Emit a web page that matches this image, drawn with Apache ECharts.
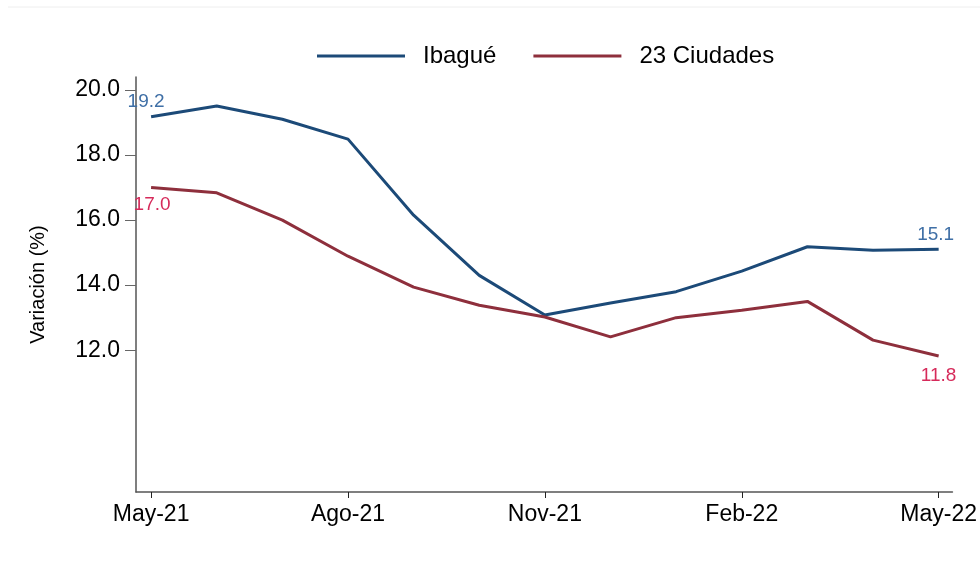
<!DOCTYPE html>
<html>
<head>
<meta charset="utf-8">
<script src="https://cdn.jsdelivr.net/npm/echarts@6/dist/echarts.min.js"></script>
<style>
  html, body { margin: 0; padding: 0; background: #fff; }
  #chart { width: 980px; height: 565px; }
</style>
</head>
<body>
<div id="chart"></div>
<script>
// months May-21 .. May-22
const months = ['May-21', 'Jun-21', 'Jul-21', 'Ago-21', 'Sep-21', 'Oct-21', 'Nov-21',
  'Dic-21', 'Ene-22', 'Feb-22', 'Mar-22', 'Abr-22', 'May-22']
const ibague = [19.18, 19.51, 19.1, 18.49, 16.15, 14.3, 13.08, 13.45, 13.8, 14.43, 15.18, 15.07, 15.1]
const ciudades = [17.0, 16.84, 16.0, 14.89, 13.94, 13.38, 13.02, 12.41, 13.0, 13.23, 13.5, 12.31, 11.82]
const xTicks = [0, 3, 6, 9, 12]
const yTicks = [12, 14, 16, 18, 20]

const font = '"Liberation Sans", Arial, sans-serif'

// labels only on first and last point
function buildData(values, color, firstLabel, lastLabel) {
  return values.map((v, i) => {
    const item = { value: [i, v] }
    if (i === 0) item.label = Object.assign({ show: true, color }, firstLabel)
    if (i === values.length - 1) item.label = Object.assign({ show: true, color }, lastLabel)
    return item
  })
}

const chart = echarts.init(document.getElementById('chart'))

chart.setOption({
  backgroundColor: '#fff',
  animation: false,
  textStyle: { fontFamily: font },
  graphic: [{
    type: 'line',
    shape: { x1: 8, y1: 7, x2: 980, y2: 7 },
    style: { stroke: '#eeeeee', lineWidth: 1 }
  }],
  legend: {
    left: 312,
    top: 39,
    icon: 'rect',
    itemWidth: 88,
    itemHeight: 3,
    itemGap: 37,
    textStyle: { fontSize: 24, color: '#000', padding: [0, 0, 0, 13], fontFamily: font },
    data: ['Ibagué', '23 Ciudades']
  },
  grid: { left: 136, right: 25, top: 77, bottom: 73 },
  xAxis: {
    type: 'value',
    min: -0.23,
    max: 12.21,
    splitLine: { show: false },
    axisLine: { onZero: false, lineStyle: { color: '#555', width: 1.5 } },
    axisTick: { customValues: xTicks, length: 6, lineStyle: { color: '#222' } },
    axisLabel: {
      customValues: xTicks,
      formatter: v => months[Math.round(v)],
      fontSize: 23, color: '#000', margin: 11, fontFamily: font
    }
  },
  yAxis: {
    type: 'value',
    min: 7.64,
    max: 20.4,
    name: 'Variación (%)',
    nameLocation: 'middle',
    nameGap: 88,
    nameRotate: 90,
    nameTextStyle: { fontSize: 20, color: '#000', fontFamily: font },
    splitLine: { show: false },
    axisLine: { show: true, onZero: false, lineStyle: { color: '#555', width: 1.5 } },
    axisTick: { customValues: yTicks, length: 11, lineStyle: { color: '#666' } },
    axisLabel: {
      customValues: yTicks,
      formatter: v => v.toFixed(1),
      fontSize: 23, color: '#000', margin: 16, fontFamily: font
    }
  },
  series: [
    {
      name: 'Ibagué',
      type: 'line',
      color: '#1c4a78',
      symbol: 'circle',
      symbolSize: 0,
      lineStyle: { width: 3, color: '#1c4a78' },
      label: { show: false, fontSize: 19, fontFamily: font, formatter: p => p.value[1].toFixed(1) },
      data: buildData(ibague, '#3f6fa6',
        { position: 'top', offset: [-5, 0] },
        { position: 'top', offset: [-3, 0] })
    },
    {
      name: '23 Ciudades',
      type: 'line',
      color: '#8e2f3c',
      symbol: 'circle',
      symbolSize: 0,
      lineStyle: { width: 3, color: '#8e2f3c' },
      label: { show: false, fontSize: 19, fontFamily: font, formatter: p => p.value[1].toFixed(1) },
      data: buildData(ciudades, '#d62a5a',
        { position: 'bottom', offset: [1, 3] },
        { position: 'bottom', offset: [0, 5] })
    }
  ]
})
</script>
</body>
</html>
